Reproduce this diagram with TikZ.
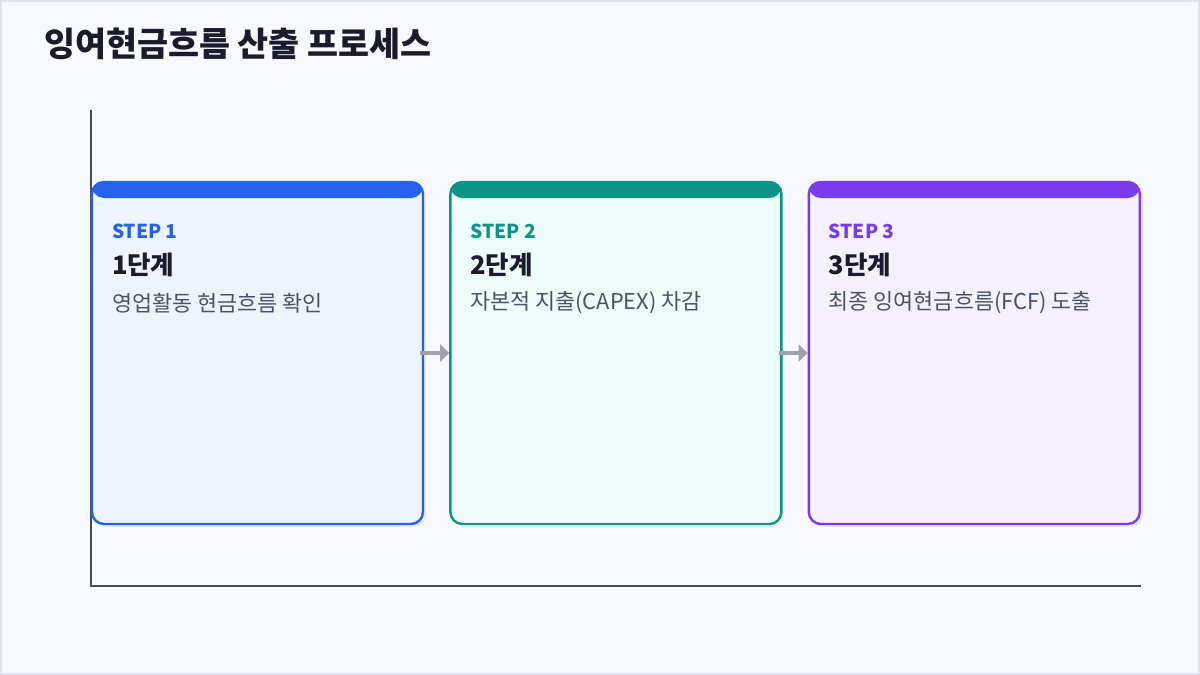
\documentclass[tikz,border=0pt]{standalone}
\usepackage{fontspec}
\setmainfont{Noto Sans CJK KR}
\usetikzlibrary{positioning,shadows,arrows.meta}

\definecolor{pagebg}{HTML}{F8F9FE}
\definecolor{pageframe}{HTML}{E3E5EB}
\definecolor{titleink}{HTML}{1C1B2E}
\definecolor{axisink}{HTML}{4A4A5A}
\definecolor{descink}{HTML}{4B5168}
\definecolor{arrowink}{HTML}{9CA3AF}
\definecolor{blueline}{HTML}{2563EB}
\definecolor{bluefill}{HTML}{EFF3FE}
\definecolor{tealline}{HTML}{0D9488}
\definecolor{tealfill}{HTML}{ECFDF9}
\definecolor{purpleline}{HTML}{7C3AED}
\definecolor{purplefill}{HTML}{F5F0FE}

\begin{document}
\begin{tikzpicture}[x=1pt,y=1pt,
    card/.style={draw=#1line, line width=2.4pt, fill=#1fill, rounded corners=12pt,
        minimum width=331pt, minimum height=342pt, inner sep=0pt,
        drop shadow={shadow xshift=3pt, shadow yshift=-3pt, fill=black!12, opacity=0.6},
        path picture={\fill[#1line] (path picture bounding box.north west)
            rectangle ([yshift=-16pt]path picture bounding box.north east);}},
    steptag/.style={anchor=west, inner sep=0pt, font=\fontsize{19.2}{22}\selectfont\bfseries, text=#1line},
    stepname/.style={anchor=west, inner sep=0pt, font=\fontsize{25.5}{30}\selectfont\bfseries, text=titleink},
    stepdesc/.style={anchor=west, inner sep=0pt, font=\fontsize{21.8}{26}\selectfont, text=descink},
    flow/.style={draw=arrowink, line width=4pt, -{Triangle[length=9pt,width=17pt]}}]
    % page and frame
    \fill[pagebg] (0,0) rectangle (1200,-675);
    \draw[pageframe, line width=2pt] (1,-1) rectangle (1199,-674);
    \useasboundingbox (0,0) rectangle (1200,-675);

    \node[anchor=west, inner sep=0pt, font=\fontsize{33.7}{40}\selectfont\bfseries, text=titleink]
        (title) at (44,-44) {잉여현금흐름 산출 프로세스};

    % axes
    \coordinate (top) at (91,-110);
    \coordinate (origin) at (91,-586);
    \coordinate (right) at (1141,-586);
    \draw[axisink, line width=1.6pt] (top) -- (origin) -- (right);

    % cards
    \node[card=blue] (c1) at (257.5,-353) {};
    \node[card=teal, right=25pt of c1] (c2) {};
    \node[card=purple, right=25pt of c2] (c3) {};

    \node[steptag=blue] (t1) at ([xshift=21pt,yshift=-50.5pt]c1.north west) {STEP 1};
    \node[stepname] (n1) at ([xshift=21pt,yshift=-84pt]c1.north west) {1단계};
    \node[stepdesc] (d1) at ([xshift=21pt,yshift=-122pt]c1.north west) {영업활동 현금흐름 확인};

    \node[steptag=teal] (t2) at ([xshift=21pt,yshift=-50.5pt]c2.north west) {STEP 2};
    \node[stepname] (n2) at ([xshift=21pt,yshift=-84pt]c2.north west) {2단계};
    \node[stepdesc] (d2) at ([xshift=21pt,yshift=-122pt]c2.north west) {자본적 지출(CAPEX) 차감};

    \node[steptag=purple] (t3) at ([xshift=21pt,yshift=-50.5pt]c3.north west) {STEP 3};
    \node[stepname] (n3) at ([xshift=21pt,yshift=-84pt]c3.north west) {3단계};
    \node[stepdesc] (d3) at ([xshift=21pt,yshift=-122pt]c3.north west) {최종 잉여현금흐름(FCF) 도출};

    % arrows
    \draw[flow] ([xshift=-4pt]c1.east) -- (c2.west);
    \draw[flow] ([xshift=-4pt]c2.east) -- (c3.west);
\end{tikzpicture}
\end{document}
